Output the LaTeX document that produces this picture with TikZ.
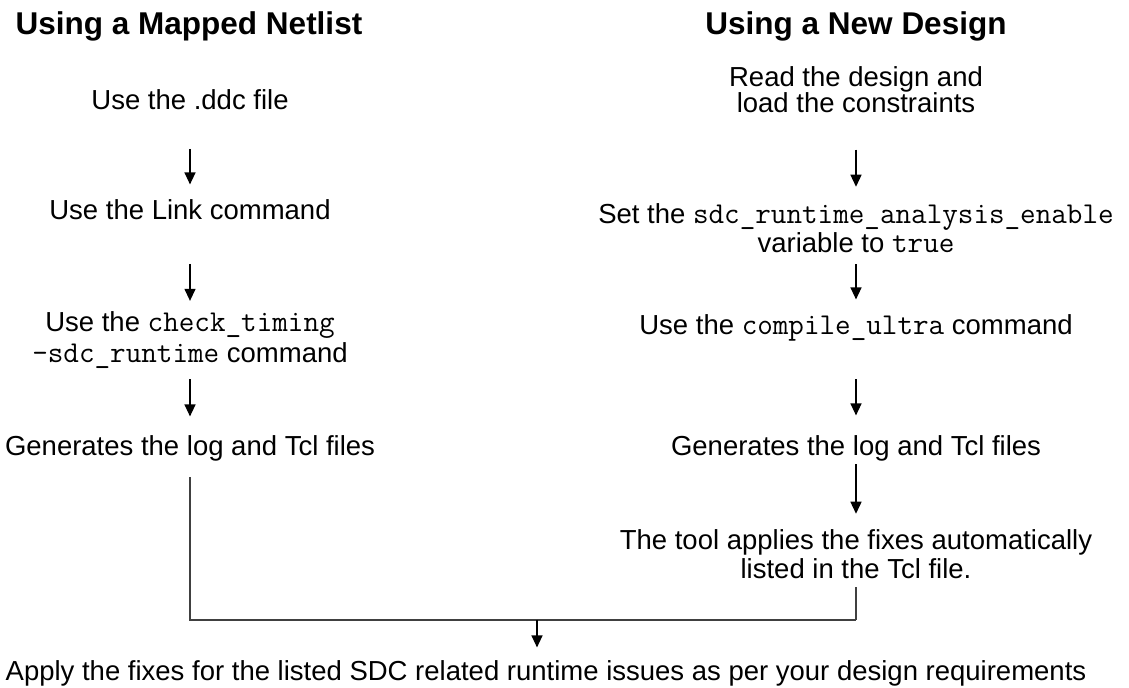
\documentclass[tikz,border=0pt]{standalone}
\usepackage{fontspec}
\setmainfont{Liberation Sans}
\setmonofont{Latin Modern Mono}[Scale=1.1]
\usetikzlibrary{arrows.meta}

\begin{document}
\begin{tikzpicture}[x=0.5pt,y=-0.5pt,line width=0.65pt]
	\tikzset{txt/.style={inner sep=0pt, align=center, font=\fontsize{13.75}{13.5}\selectfont},
	         ttl/.style={inner sep=0pt, anchor=base, font=\fontsize{15.75}{18}\selectfont\bfseries},
	         arr/.style={-{Triangle[width=5.5pt,length=6pt]}},
	         wire/.style={draw=black!75}}
	\useasboundingbox (0,0) rectangle (1129,688);

	%---NODES---
	\node[ttl] (t1) at (189,35) {Using a Mapped Netlist};
	\node[ttl] (t2) at (856,35) {Using a New Design};

	% left column
	\node[txt, anchor=base] (ddc) at (190,110) {Use the .ddc file};
	\node[txt, anchor=base] (link) at (190,220) {Use the Link command};
	\node[txt, font=\fontsize{13.75}{15.5}\selectfont] (check) at (190,340) {Use the \texttt{check\_timing}\\\texttt{-sdc\_runtime} command};
	\node[txt, anchor=base] (genL) at (190,456) {Generates the log and Tcl files};

	% right column
	\node[txt, font=\fontsize{13.75}{13}\selectfont] (read) at (856,90) {Read the design and\\load the constraints};
	\node[txt, font=\fontsize{13.75}{14.5}\selectfont] (setvar) at (856,228) {Set the \texttt{sdc\_runtime\_analysis\_enable}\\variable to \texttt{true}};
	\node[txt, anchor=base] (compile) at (856,335) {Use the \texttt{compile\_ultra} command};
	\node[txt, anchor=base] (genR) at (856,456) {Generates the log and Tcl files};
	\node[txt, font=\fontsize{13.75}{14.5}\selectfont] (tool) at (856,554) {The tool applies the fixes automatically\\listed in the Tcl file.};

	% bottom
	\node[txt, anchor=base] (apply) at (546,681) {Apply the fixes for the listed SDC related runtime issues as per your design requirements};

	\coordinate (jl) at (190,620);
	\coordinate (jr) at (856,620);
	\coordinate (jm) at (537,620);

	%---EDGES---
	\draw[arr, shorten <=19pt, shorten >=7.5pt] (ddc) -- (link);
	\draw[arr, shorten <=21.5pt, shorten >=5pt] (link) -- (check);
	\draw[arr, shorten <=5pt, shorten >=9.5pt] (check) -- (check |- genL.north);

	\draw[arr, shorten <=18pt, shorten >=8pt] (read) -- (setvar);
	\draw[arr, shorten <=5.5pt, shorten >=7.5pt] (setvar) -- (compile);
	\draw[arr, shorten <=18.5pt, shorten >=10pt] (compile) -- (genR);
	\draw[arr, shorten <=1pt, shorten >=7.5pt] (genR) -- (tool);

	\draw[wire, shorten <=7.5pt] (genL) -- (jl) -- (jr);
	\draw[wire, shorten <=4pt] (tool) -- (jr);
	\draw[arr, shorten >=6.5pt] (jm) -- (jm |- apply.north);

\end{tikzpicture}
\end{document}
